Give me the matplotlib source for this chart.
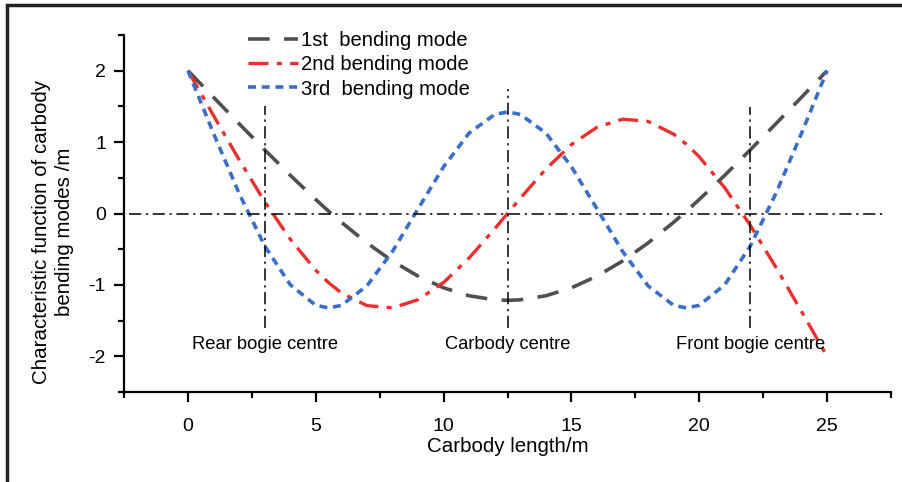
import matplotlib
matplotlib.use("Agg")
import matplotlib.pyplot as plt
from matplotlib.patches import Rectangle
from matplotlib.ticker import MultipleLocator

plt.rcParams['font.family'] = ['Liberation Sans', 'DejaVu Sans']
plt.rcParams['axes.unicode_minus'] = False

# values (x in m)
length_m = [0, 1, 2, 3, 4, 5, 5.5, 6, 7, 8, 9, 10, 11, 12, 12.5,
            13, 14, 15, 16, 17, 18, 19, 19.5, 20, 21, 22, 23, 24, 25]
mode1 = [2.0, 1.628, 1.258, 0.893, 0.536, 0.196, 0.033, -0.122, -0.412, -0.666,
         -0.877, -1.041, -1.152, -1.209, -1.216,
         -1.209, -1.152, -1.041, -0.877, -0.666, -0.412, -0.122, 0.033, 0.196,
         0.536, 0.893, 1.258, 1.628, 2.0]
mode2 = [2.0, 1.372, 0.754, 0.167, -0.359, -0.795, -0.969, -1.111, -1.290, -1.321,
         -1.208, -0.966, -0.622, -0.214, 0.0,
         0.214, 0.622, 0.966, 1.208, 1.321, 1.290, 1.111, 0.969, 0.795,
         0.359, -0.167, -0.754, -1.372, -2.0]
mode3 = [2.0, 1.123, 0.282, -0.453, -0.997, -1.286, -1.322, -1.287, -1.014, -0.531,
         0.065, 0.655, 1.127, 1.388, 1.422,
         1.388, 1.127, 0.655, 0.065, -0.531, -1.014, -1.287, -1.322, -1.286,
         -0.997, -0.453, 0.282, 1.123, 2.0]
mode_names = ['1st  bending mode', '2nd bending mode', '3rd  bending mode']

marker_x = [3, 12.5, 22]
marker_top = [1.5, 1.74, 1.49]
marker_names = ['Rear bogie centre', 'Carbody centre', 'Front bogie centre']

fig = plt.figure(figsize=(9.02, 4.82), dpi=100)
ax = fig.add_axes([0.1375, 0.1867, 0.8503, 0.7407])

ax.plot(length_m, mode1, color='#505050', lw=2.6, dashes=(6, 4), label=mode_names[0])
ax.plot(length_m, mode2, color='#ea2f2f', lw=2.4, dashes=(6, 2.5, 1.5, 2.5), label=mode_names[1])
ax.plot(length_m, mode3, color='#3b6ec6', lw=2.6, dashes=(2.2, 1.6), label=mode_names[2])

# reference lines
ax.plot([-2.3, 27.2], [0, 0], color='black', lw=1.1, dashes=(8, 3, 1.5, 3))
for xm, top in zip(marker_x, marker_top):
    ax.plot([xm, xm], [-1.6, top], color='black', lw=1.1, dashes=(8, 3, 1.5, 3))

for xm, name in zip(marker_x, marker_names):
    ax.text(xm, -1.84, name, ha='center', va='center', fontsize=13.2)

ax.set_xlim(-2.5, 27.5)
ax.set_ylim(-2.5, 2.5)
ax.xaxis.set_minor_locator(MultipleLocator(2.5))
ax.yaxis.set_minor_locator(MultipleLocator(0.5))
ax.set_xticks([0, 5, 10, 15, 20, 25])
ax.set_yticks([-2, -1, 0, 1, 2])
ax.tick_params(which='major', direction='out', length=7, width=1.6, labelsize=14)
ax.tick_params(axis='x', which='major', pad=11.5)
ax.tick_params(axis='y', which='major', pad=6)
ax.tick_params(which='minor', direction='out', length=4.5, width=1.6)
for side in ['top', 'right']:
    ax.spines[side].set_visible(False)
for side in ['left', 'bottom']:
    ax.spines[side].set_linewidth(1.6)

ax.set_xlabel('Carbody length/m', fontsize=14.8, labelpad=2)
fig.text(53 / 902, 1 - 232 / 482, 'Characteristic function of carbody\nbending modes /m',
         rotation=90, ha='center', va='center', multialignment='center',
         fontsize=14.8, linespacing=1.22)

ax.legend(loc='upper left', bbox_to_anchor=(0.151, 1.034), frameon=False, fontsize=14.6,
          handlelength=2.45, handletextpad=0.15, labelspacing=0.26, borderaxespad=0)

# outer frame of the figure
fig.patches.append(Rectangle((7 / 902, -0.2), 1.2, 0.2 + 1 - 5 / 482, transform=fig.transFigure,
                             fill=False, edgecolor='#222222', lw=2.5))

fig.savefig('out.png', dpi=100)
